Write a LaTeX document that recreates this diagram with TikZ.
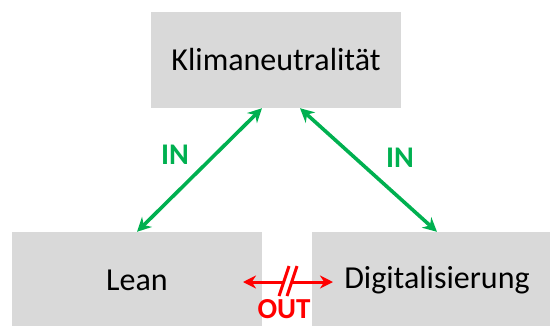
\documentclass[tikz,border=0pt]{standalone}
\usepackage{fontspec}
\setmainfont{Carlito}
\usetikzlibrary{arrows.meta,calc}
\definecolor{boxgray}{HTML}{D9D9D9}
\definecolor{ingreen}{HTML}{00B050}
\definecolor{outred}{HTML}{FF0000}
\tikzset{
  box/.style={fill=boxgray, draw=none, minimum width=250pt, minimum height=96pt, inner sep=0pt, font=\fontsize{32}{36}\selectfont},
  inarrow/.style={ingreen, line width=3.6pt, {Stealth[length=14pt,width=14pt]}-{Stealth[length=14pt,width=14pt]}},
  outarrow/.style={outred, line width=3pt},
  inlabel/.style={ingreen, inner sep=0pt, font=\fontsize{30}{34}\selectfont\bfseries},
  outlabel/.style={outred, inner sep=0pt, font=\fontsize{29}{33}\selectfont\bfseries}
}
\begin{document}
\begin{tikzpicture}[x=1pt,y=-1pt]
\useasboundingbox (0,0) rectangle (550,325);
\clip (0,0) rectangle (550,325);
\node[box] (klima) at (276,60) {Klimaneutralität};
\node[box] (lean) at (137,280) {Lean};
\node[box] (digi) at (437,280) {Digitalisierung};
\path (klima.south) ++(-14,0) coordinate (kL) (klima.south) ++(24,0) coordinate (kR);
\draw[inarrow] (lean.north) -- (kL);
\draw[inarrow] (kR) -- (digi.north);
\node[inlabel] (in1) at (175,155) {IN};
\node[inlabel] (in2) at (400,158) {IN};
\coordinate (oL) at (243,282);
\coordinate (oR) at (333,282);
\coordinate (s1) at (284,282);
\coordinate (s2) at (292,282);
\draw[outarrow, -{Stealth[length=13pt,width=13pt]}] (s2) -- (oR);
\draw[outarrow, {Stealth[length=13pt,width=13pt]}-] (oL) -- (s1);
\draw[outred, line width=3pt] ($(s1)+(5,-16)$) -- ($(s1)+(-5,14)$);
\draw[outred, line width=3pt] ($(s2)+(5,-16)$) -- ($(s2)+(-5,14)$);
\node[outlabel] (out) at (284,309) {OUT};
\end{tikzpicture}
\end{document}
